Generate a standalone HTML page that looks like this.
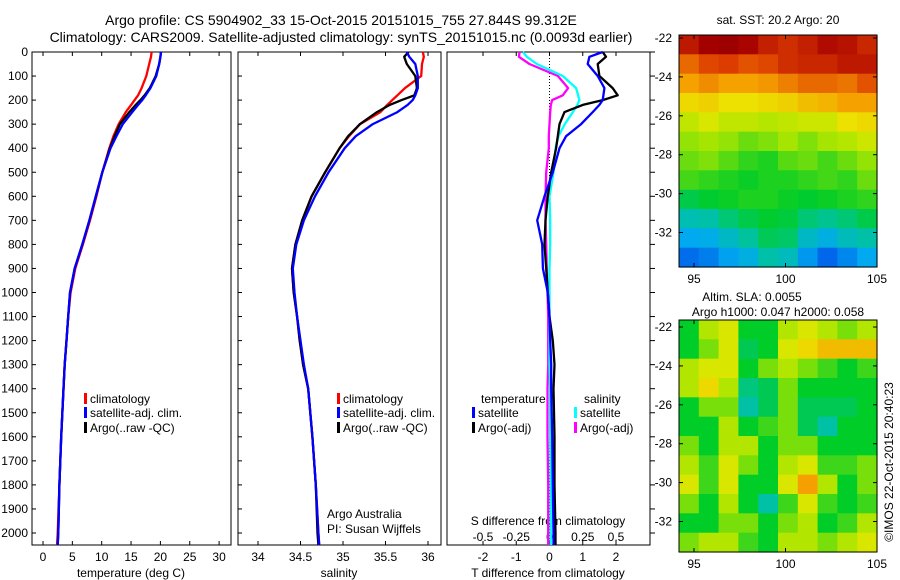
<!DOCTYPE html>
<html><head><meta charset="utf-8"><style>
html,body{margin:0;padding:0;background:#fff;}
svg{display:block;font-family:"Liberation Sans",sans-serif;}
text{font-size:12px;fill:#000;}
</style></head><body>
<svg id="c" width="900" height="580" viewBox="0 0 900 580" xmlns="http://www.w3.org/2000/svg">
<rect width="900" height="580" fill="#fff"/>
<text x="341" y="25" text-anchor="middle" style="font-size:14px">Argo profile: CS 5904902_33 15-Oct-2015 20151015_755 27.844S 99.312E</text>
<text x="341" y="42" text-anchor="middle" style="font-size:14px">Climatology: CARS2009. Satellite-adjusted climatology: synTS_20151015.nc (0.0093d earlier)</text>
<g id="g"></g>
</svg>
<script>
// ---- data ----
const depths = [0,20,50,100,150,180,200,220,250,300,350,400,500,600,700,800,900,1000,1100,1200,1300,1400,1600,1800,2000,2050];
const tempClim = [18.5,18.4,18.1,17.6,16.8,16.2,15.6,15.0,14.1,12.9,12.0,11.3,10.1,9.1,8.0,6.8,5.5,4.7,4.3,4.0,3.7,3.5,3.1,2.8,2.5,2.4];
const tempSat  = [20.1,20.0,19.8,19.3,18.3,17.5,16.9,16.2,15.2,13.6,12.5,11.5,10.1,9.0,7.9,6.7,5.4,4.6,4.3,4.0,3.7,3.5,3.1,2.8,2.6,2.5];
const tempArgo = [20.1,20.0,19.8,19.2,18.2,17.3,16.6,15.8,14.7,13.1,12.2,11.4,10.1,9.0,7.9,6.7,5.4,4.6,4.3,4.0,3.7,3.5,3.1,2.8,2.6,2.5];
const salClim = [35.94,35.95,35.93,35.92,35.73,35.64,35.58,35.52,35.44,35.20,35.07,34.96,34.79,34.63,34.52,34.44,34.40,34.42,34.46,34.49,34.53,34.59,34.64,34.68,34.71,34.72];
const salSat  = [35.75,35.78,35.85,35.88,35.88,35.85,35.82,35.76,35.64,35.35,35.15,35.02,34.83,34.67,34.54,34.45,34.41,34.43,34.46,34.50,34.54,34.59,34.64,34.68,34.71,34.72];
const salArgo = [35.77,35.72,35.75,35.85,35.87,35.84,35.69,35.55,35.40,35.20,35.06,34.96,34.79,34.63,34.52,34.44,34.40,34.42,34.46,34.49,34.53,34.59,34.64,34.68,34.70,34.71];
const dTsat  = [1.6,1.2,1.15,1.45,1.65,1.62,1.6,1.5,1.3,0.95,0.5,0.3,0.1,-0.15,-0.37,-0.22,-0.2,-0.05,0.0,0.02,0.05,0.05,0.08,0.1,0.12,0.12];
const dTargo = [1.6,1.7,1.45,1.5,1.9,2.05,1.6,1.0,0.45,0.3,0.25,0.2,0.05,-0.05,-0.12,-0.15,-0.1,-0.05,0.0,0.1,0.15,0.12,0.15,0.15,0.18,0.18];
const dSsat  = [-0.2,-0.17,-0.095,0.1,0.2,0.215,0.225,0.21,0.175,0.115,0.068,0.045,0.03,0.0,0.005,0.005,0.0,0.0,0.0,0.0,0.0,0.005,0.005,0.01,0.01,0.01];
const dSargo = [-0.225,-0.23,-0.15,0.063,0.14,0.1,0.02,0.01,0.005,0.0,-0.005,-0.005,-0.025,-0.03,-0.03,-0.025,-0.02,-0.015,-0.01,-0.01,-0.01,-0.015,-0.015,-0.01,-0.01,-0.01];
const depthTicks = [0,100,200,300,400,500,600,700,800,900,1000,1100,1200,1300,1400,1500,1600,1700,1800,1900,2000];
const tempTicks = [0,5,10,15,20,25,30];
const salTicks = [34,34.5,35,35.5,36];
const dTTicks = [-2,-1,0,1,2];
const dSTicks = [-0.5,-0.25,0,0.25,0.5];
const latTicks = [-22,-24,-26,-28,-30,-32];
const lonTicks = [95,100,105];
const sstGrid = [
[23.2,23.6,23.7,23.5,23.1,22.9,23.1,23.4,23.3,23.0],
[22.3,22.6,22.7,22.5,22.6,22.9,23.0,23.0,23.2,23.2],
[21.8,22.0,21.8,21.8,21.9,22.1,22.3,22.3,22.2,22.5],
[21.2,21.3,21.1,21.1,21.2,21.3,21.5,21.6,21.8,21.8],
[20.7,20.9,20.7,20.7,20.6,20.7,20.8,20.8,21.1,21.2],
[20.4,20.5,20.4,20.2,20.3,20.5,20.3,20.5,20.6,20.8],
[20.2,20.3,20.1,19.9,19.8,20.1,20.2,20.0,20.2,20.4],
[20.0,19.9,19.8,19.7,19.8,19.8,19.9,20.0,19.9,20.2],
[19.4,19.6,19.7,19.8,19.8,19.7,19.6,19.7,19.8,19.9],
[18.6,18.7,19.1,19.4,19.6,19.5,19.1,18.9,19.1,19.4],
[17.9,18.0,18.4,18.8,19.3,19.2,18.4,18.1,18.5,18.7],
[17.2,17.4,17.8,18.1,18.7,18.5,17.7,17.1,17.5,17.9]];
const slaGrid = [
[0,3,4,0,0,3,4,3,2,3],
[0,2,4,-1,0,4,5,6,6,6],
[3,4,4,0,2,3,2,1,0,1],
[3,5,3,-2,-1,2,0,0,0,0],
[0,2,2,-3,-1,2,-1,-1,-1,0],
[0,0,3,0,1,2,-1,-3,0,0],
[2,0,3,3,0,2,2,0,0,0],
[3,1,4,2,0,3,4,1,1,2],
[4,1,4,0,0,4,7,3,0,2],
[2,0,3,0,-3,1,4,1,0,1],
[0,0,2,2,0,2,3,0,1,3],
[2,3,3,1,0,3,3,2,3,4]];

// ---- helpers ----
const NS="http://www.w3.org/2000/svg";
const G=document.getElementById('g');
function mk(t,a,p){const e=document.createElementNS(NS,t);for(const k in a)e.setAttribute(k,a[k]);(p||G).appendChild(e);return e;}
function txt(x,y,s,anchor,p){const e=mk('text',{x:x,y:y,'text-anchor':anchor||'start'},p);e.textContent=s;return e;}
const yD = d => 52 + d*0.2405;
const PB=545;
const xT = v => 43 + v*5.87;
const xS = v => 258 + (v-34)*85;
const xDT = v => 549.5 + v*33.25;
const xDS = v => 549.5 + v*4*33.25;

function panel(x0,x1,name){
  const r=mk('rect',{x:x0,y:52,width:x1-x0,height:PB-52,fill:'none',stroke:'#000','stroke-width':1});
  
  
}
panel(32,231,'temperature-panel');
panel(238,441,'salinity-panel');
panel(447,650,'difference-panel');

depthTicks.forEach(d=>{
  const y=yD(d);
  const t=txt(28,y+4,String(d),'end');
  
  
  mk('line',{x1:32,y1:y,x2:36,y2:y,stroke:'#000'});
  mk('line',{x1:238,y1:y,x2:242,y2:y,stroke:'#000'});
  mk('line',{x1:650,y1:y,x2:655,y2:y,stroke:'#000'});
});
function xticks(arr,f,lblY){
  arr.forEach(v=>{
    const x=f(v);
    mk('line',{x1:x,y1:PB,x2:x,y2:PB-4,stroke:'#000'});
    mk('line',{x1:x,y1:52,x2:x,y2:56,stroke:'#000'});
    const t=txt(x,lblY,String(v),'middle');
    
    
  });
}
xticks(tempTicks,xT,561);
xticks(salTicks,xS,561);
xticks(dTTicks,xDT,561);
dSTicks.forEach(v=>{
  const t=txt(xDS(v),541,String(v),'middle');
  
  
});
[['temperature (deg C)',131,'temperature-axis-title'],['salinity',339,'salinity-axis-title'],['T difference from climatology',548,'t-diff-axis-title']].forEach(a=>{
  const t=txt(a[1],577,a[0],'middle');
  
  
});
{const t=txt(548,525,'S difference from climatology','middle');

}

mk('line',{x1:xDT(0),y1:52,x2:xDT(0),y2:PB,stroke:'#000','stroke-dasharray':'1,2'});

function line(vals,f,color,name){
  const pts=vals.map((v,i)=>f(v).toFixed(1)+','+yD(depths[i]).toFixed(1)).join(' ');
  const p=mk('polyline',{points:pts,fill:'none',stroke:color,'stroke-width':2.3,'stroke-linejoin':'round'});
  
  
}
line(tempClim,xT,'#f00','temp-climatology-line');
line(tempArgo,xT,'#000','temp-argo-line');
line(tempSat,xT,'#00f','temp-satellite-line');
line(salClim,xS,'#f00','sal-climatology-line');
line(salArgo,xS,'#000','sal-argo-line');
line(salSat,xS,'#00f','sal-satellite-line');
line(dSargo,xDS,'#f0f','dsal-argo-line');
line(dSsat,xDS,'#0ff','dsal-satellite-line');
line(dTargo,xDT,'#000','dtemp-argo-line');
line(dTsat,xDT,'#00f','dtemp-satellite-line');

function legend(x,y,color,label,name){
  mk('rect',{x:x,y:y-10,width:3,height:11,fill:color});
  const t=txt(x+6,y,label,'start');
  
  
}
legend(84,403,'#f00','climatology','legend-climatology');
legend(84,417,'#00f','satellite-adj. clim.','legend-satellite');
legend(84,432,'#000','Argo(..raw -QC)','legend-argo');
legend(337,403,'#f00','climatology','legend-climatology-2');
legend(337,417,'#00f','satellite-adj. clim.','legend-satellite-2');
legend(337,432,'#000','Argo(..raw -QC)','legend-argo-2');
{const t=txt(481,403,'temperature');}
{const t=txt(584,403,'salinity');}
legend(472,417,'#00f','satellite','legend-t-satellite');
legend(472,432,'#000','Argo(-adj)','legend-t-argo');
legend(574,417,'#0ff','satellite','legend-s-satellite');
legend(574,432,'#f0f','Argo(-adj)','legend-s-argo');
{const t=txt(327,518,'Argo Australia');}
{const t=txt(327,533,'PI: Susan Wijffels');}

// ---- maps ----
const cmapStops=[[0,0,0,150],[0.15,0,60,230],[0.3,0,170,240],[0.4,0,195,160],[0.5,0,205,40],[0.6,170,230,0],[0.66,235,230,0],[0.75,245,160,0],[0.85,220,60,0],[0.95,165,0,0],[1,140,0,0]];
function cmap(t){t=Math.max(0,Math.min(1,t));
  for(let i=1;i<cmapStops.length;i++){const a=cmapStops[i-1],b=cmapStops[i];
    if(t<=b[0]){const f=(t-a[0])/(b[0]-a[0]);
      return 'rgb('+Math.round(a[1]+f*(b[1]-a[1]))+','+Math.round(a[2]+f*(b[2]-a[2]))+','+Math.round(a[3]+f*(b[3]-a[3]))+')';}}
  return 'rgb(140,0,0)';}
const mx0=679,mx1=877;
const xLon = v => 694 + (v-95)*18.3;
function map(grid,vmin,vmax,top,bot,lat0y,name){
  const gEl=mk('g',{});
  
  
  const rows=grid.length,cols=grid[0].length;
  const cw=(mx1-mx0)/cols,ch=(bot-top)/rows;
  grid.forEach((row,i)=>row.forEach((v,j)=>{
    const r=mk('rect',{x:(mx0+j*cw).toFixed(1),y:(top+i*ch).toFixed(1),width:(cw+0.6).toFixed(1),height:(ch+0.6).toFixed(1),fill:cmap((v-vmin)/(vmax-vmin))},gEl);
    
    
  }));
  mk('rect',{x:mx0,y:top,width:mx1-mx0,height:bot-top,fill:'none',stroke:'#000'});
  latTicks.forEach(l=>{
    const y=lat0y+(-22-l)*19.45;
    mk('line',{x1:mx0,y1:y,x2:mx0+4,y2:y,stroke:'#000'});
    mk('line',{x1:mx1,y1:y,x2:mx1-4,y2:y,stroke:'#000'});
    const t=txt(672,y+4,String(l),'end');
    
    
  });
  lonTicks.forEach(l=>{
    const x=xLon(l);
    mk('line',{x1:x,y1:bot,x2:x,y2:bot-4,stroke:'#000'});
    mk('line',{x1:x,y1:top,x2:x,y2:top+4,stroke:'#000'});
    const t=txt(x,bot+16,String(l),'middle');
    
    
  });
}
map(sstGrid,15.3,24.0,35,267,38,'sst-map');
map(slaGrid,-14,14,320,552,327,'sla-map');
{const t=txt(778,24,'sat. SST: 20.2 Argo: 20','middle');}
{const t=txt(752,301,'Altim. SLA: 0.0055','middle');}
{const t=txt(778,316,'Argo h1000: 0.047 h2000: 0.058','middle');}
{const t=txt(0,0,'©IMOS 22-Oct-2015 20:40:23','middle');t.setAttribute('transform','translate(893,462) rotate(-90)');}
</script>
</body></html>
